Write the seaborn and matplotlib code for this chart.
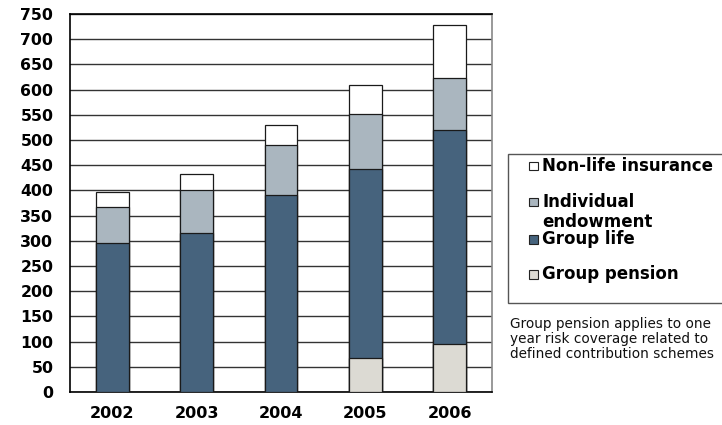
import numpy as np
import pandas as pd
import matplotlib
matplotlib.use("Agg")
import matplotlib.pyplot as plt
from matplotlib.patches import Rectangle
import seaborn as sns

years = ["2002", "2003", "2004", "2005", "2006"]
group_pension = [0, 0, 0, 68, 96]
group_life = [296, 316, 391, 374, 423]
individual_endowment = [71, 84, 100, 109, 105]
non_life = [30, 32, 39, 59, 105]

series_names = ["Group pension", "Group life", "Individual\nendowment", "Non-life insurance"]
series_values = [group_pension, group_life, individual_endowment, non_life]
series_colors = ["#dcdad3", "#46637d", "#aab6bf", "#ffffff"]

sns.set_style("white")
plt.rcParams["font.family"] = ["DejaVu Sans"]
plt.rcParams["text.color"] = "#000000"
plt.rcParams["xtick.labelcolor"] = "#000000"
plt.rcParams["ytick.labelcolor"] = "#000000"

fig = plt.figure(figsize=(7.22, 4.25), dpi=100)
ax = fig.add_axes([70 / 722, 33 / 425, 422 / 722, 378 / 425])

# cumulative tops for stacking; draw tallest layer first so lower ones overlay it
df = pd.DataFrame({"year": years})
cum = np.zeros(len(years))
tops = []
for vals in series_values:
    cum = cum + np.array(vals)
    tops.append(cum.copy())

for name, top, color in reversed(list(zip(series_names, tops, series_colors))):
    d = df.assign(value=top)
    sns.barplot(data=d, x="year", y="value", color=color, width=0.39,
                edgecolor="#1a1a1a", linewidth=0.9, saturation=1, ax=ax,
                zorder=3)
# hide empty segments (zero-height group pension)
for p in ax.patches:
    if p.get_height() == 0:
        p.set_visible(False)

ax.set_ylim(0, 750)
ax.set_xlim(-0.5, 4.5)
ax.set_yticks(np.arange(0, 751, 50))
ax.set_xlabel("")
ax.set_ylabel("")
ax.yaxis.grid(True, color="#333333", linewidth=1.0, zorder=0)
ax.set_axisbelow(True)

for side in ["left", "bottom", "top"]:
    ax.spines[side].set_visible(True)
    ax.spines[side].set_color("#000000")
    ax.spines[side].set_linewidth(1.2)
ax.spines["right"].set_visible(True)
ax.spines["right"].set_color("#888888")
ax.spines["right"].set_linewidth(1.2)

ax.tick_params(axis="y", which="major", direction="out", length=4, width=1,
               color="#555555", labelsize=11.3, pad=8, labelcolor="#000000")
ax.tick_params(axis="x", which="major", length=0, labelsize=11.5, pad=10,
               labelcolor="#000000")
ax.set_xticks(np.arange(-0.5, 5.0, 1.0), minor=True)
ax.tick_params(axis="x", which="minor", direction="out", length=5, width=1,
               color="#333333")
for lbl in ax.get_xticklabels() + ax.get_yticklabels():
    lbl.set_fontweight("bold")

# legend box
box = Rectangle((508 / 722, (425 - 303) / 425), 215 / 722, 149 / 425,
                transform=fig.transFigure, facecolor="white",
                edgecolor="#555555", linewidth=1.0)
fig.patches.append(box)

legend_rows = [
    ("Non-life insurance", "#ffffff", 166, 166),
    ("Individual\nendowment", "#aab6bf", 202, 212),
    ("Group life", "#46637d", 239, 239),
    ("Group pension", "#dcdad3", 274, 274),
]
for label, color, marker_y, text_y in legend_rows:
    sq = 9
    fig.patches.append(Rectangle(((533 - sq / 2) / 722, (425 - marker_y - sq / 2) / 425),
                                 sq / 722, sq / 425, transform=fig.transFigure,
                                 facecolor=color, edgecolor="#222222", linewidth=0.8))
    fig.text(542 / 722, (425 - text_y) / 425, label, fontsize=12,
             fontweight="bold", va="center", ha="left", linespacing=1.15,
             color="#000000")

fig.text(510 / 722, (425 - 339) / 425,
         "Group pension applies to one\nyear risk coverage related to\ndefined contribution schemes",
         fontsize=9.8, va="center", ha="left", linespacing=1.05, color="#111111")

fig.savefig("out.png", dpi=100, facecolor="white")
